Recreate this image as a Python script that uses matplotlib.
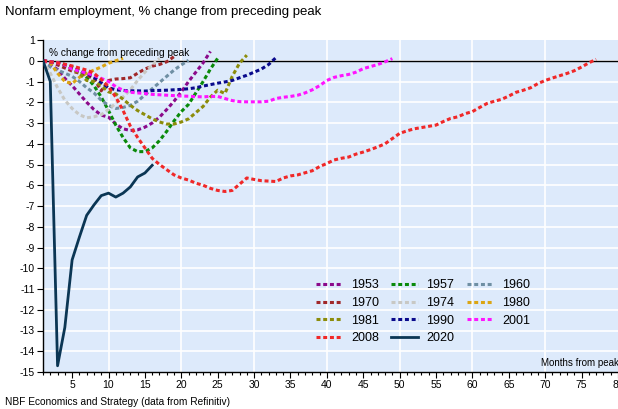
import matplotlib
matplotlib.use('Agg')
import matplotlib.pyplot as plt

plt.rcParams['font.family'] = ['Liberation Sans', 'DejaVu Sans']
plt.rcParams['axes.unicode_minus'] = False

# % change from preceding peak, month 1 = peak
y1953 = [0, -0.2, -0.42, -0.85, -1.2, -1.6, -2.0, -2.35, -2.62, -2.72, -3.05, -3.28, -3.36,
         -3.33, -3.2, -3.0, -2.72, -2.35, -1.95, -1.5, -1.0, -0.55, -0.1, 0.45]
y1957 = [0, -0.05, -0.1, -0.18, -0.3, -0.45, -0.8, -1.2, -1.75, -2.4, -3.1, -3.7, -4.2,
         -4.38, -4.38, -4.2, -3.85, -3.4, -2.9, -2.45, -2.1, -1.55, -1.0, -0.4, 0.12]
y1960 = [0, -0.3, -0.45, -0.6, -0.75, -1.0, -1.3, -1.55, -1.9, -2.15, -2.3, -2.25, -2.15,
         -1.95, -1.65, -1.35, -1.05, -0.75, -0.45, -0.2, 0.02]
y1970 = [0, -0.1, -0.2, -0.35, -0.5, -0.6, -0.7, -0.85, -1.45, -0.95, -0.88, -0.86, -0.82,
         -0.6, -0.4, -0.26, -0.18, -0.05, 0.2]
y1974 = [0, -0.6, -1.3, -1.9, -2.3, -2.6, -2.75, -2.7, -2.6, -2.35, -2.05, -1.75, -1.4,
         -0.95, -0.55, -0.2, 0.12]
y1980 = [0, -0.1, -0.6, -1.0, -1.1, -0.8, -0.6, -0.45, -0.3, -0.12, 0.0, 0.12]
y1981 = [0, -0.05, -0.1, -0.2, -0.4, -0.6, -0.95, -1.0, -1.2, -1.5, -1.6, -1.85, -2.15,
         -2.4, -2.6, -2.8, -2.95, -3.05, -3.05, -2.95, -2.8, -2.5, -2.2, -1.75, -1.42,
         -1.58, -0.75, -0.12, 0.27]
y1990 = [0, -0.05, -0.1, -0.2, -0.35, -0.5, -0.6, -0.8, -1.05, -1.3, -1.4, -1.43, -1.45,
         -1.45, -1.46, -1.44, -1.43, -1.42, -1.4, -1.38, -1.35, -1.3, -1.22, -1.15, -1.08,
         -1.02, -0.95, -0.82, -0.7, -0.55, -0.4, -0.18, 0.15]
y2001 = [0, -0.05, -0.1, -0.2, -0.4, -0.5, -0.6, -0.7, -0.85, -1.0, -1.25, -1.42, -1.52,
         -1.55, -1.58, -1.62, -1.64, -1.66, -1.68, -1.7, -1.71, -1.73, -1.74, -1.72, -1.72,
         -1.82, -1.92, -1.97, -1.98, -1.98, -1.98, -1.95, -1.82, -1.76, -1.72, -1.66, -1.55,
         -1.4, -1.2, -0.95, -0.8, -0.72, -0.66, -0.55, -0.38, -0.28, -0.18, -0.05, 0.1]
y2008 = [0, -0.05, -0.1, -0.17, -0.25, -0.35, -0.45, -0.6, -0.9,
         -1.25, -1.75, -2.4, -3.15, -3.7, -4.2, -4.7, -5.0, -5.25, -5.5, -5.65,
         -5.75, -5.9, -6.0, -6.15, -6.25, -6.3, -6.25, -5.95, -5.65, -5.72,
         -5.78, -5.8, -5.82, -5.65, -5.55, -5.5, -5.4, -5.3, -5.1, -4.95,
         -4.78, -4.7, -4.64, -4.5, -4.4, -4.28, -4.15, -4.0, -3.75, -3.5,
         -3.38, -3.28, -3.22, -3.16, -3.1, -2.93, -2.78, -2.7, -2.55, -2.45,
         -2.25, -2.06, -1.95, -1.86, -1.7, -1.52, -1.42, -1.3, -1.1, -0.95,
         -0.83, -0.72, -0.61, -0.48, -0.3, -0.1, 0.07]
y2020 = [0, -1.0, -14.7, -12.85, -9.6, -8.5, -7.45, -6.95, -6.5, -6.38, -6.57, -6.38,
         -6.08, -5.6, -5.41, -5.04]

series = [
    ('1953', y1953, '#8B0A8B'),
    ('1957', y1957, '#0A8A0A'),
    ('1960', y1960, '#6F8FA3'),
    ('1970', y1970, '#A0282A'),
    ('1974', y1974, '#C8C8C4'),
    ('1980', y1980, '#DBA514'),
    ('1981', y1981, '#8C8C0A'),
    ('1990', y1990, '#0A0A8C'),
    ('2001', y2001, '#FF14FF'),
    ('2008', y2008, '#F02828'),
]

fig = plt.figure(figsize=(6.18, 4.09), dpi=100)
ax = fig.add_axes([43 / 618, 37 / 409, 575 / 618, 332 / 409])
ax.set_facecolor('#DDEAFB')

for y in range(-14, 1):
    ax.axhline(y, color='white', lw=1.2, zorder=0)
for x in range(10, 80, 10):
    ax.axvline(x, color='white', lw=1.2, zorder=0)
ax.axhline(0, color='black', lw=1.0, zorder=1)

handles = {}
for name, vals, col in series:
    months = range(1, len(vals) + 1)
    h, = ax.plot(months, vals, color=col, lw=2.2, linestyle=(0, (1.3, 0.9)), zorder=2)
    handles[name] = h
h, = ax.plot(range(1, len(y2020) + 1), y2020, color='#0B3654', lw=2.0, zorder=3)
handles['2020'] = h

# row-wise order in a column-filled legend
order = ['1953', '1970', '1981', '2008', '1957', '1974', '1990', '2020', '1960', '1980', '2001']
ax.legend([handles[k] for k in order], order, ncol=3, frameon=False, fontsize=9,
          loc='lower left', bbox_to_anchor=(0.455, 0.05), handlelength=2.1,
          handletextpad=0.7, columnspacing=1.0, labelspacing=0.45)

ax.set_xlim(1, 80)
ax.set_ylim(-15, 1)
ax.set_xticks(range(5, 81, 5))
ax.set_xticks(range(1, 81), minor=True)
ax.set_yticks(range(-15, 2))
ax.tick_params(axis='both', labelsize=7.5, direction='out', length=4, width=0.8, pad=2)
ax.tick_params(axis='x', which='minor', length=2.5, width=0.8)
for s in ['top', 'right']:
    ax.spines[s].set_visible(False)
for s in ['left', 'bottom']:
    ax.spines[s].set_linewidth(1.0)

ax.text(0.01, 0.975, '% change from preceding peak', transform=ax.transAxes,
        fontsize=7.3, va='top', ha='left')
ax.text(1.002, 0.012, 'Months from peak', transform=ax.transAxes,
        fontsize=7, va='bottom', ha='right')

fig.text(5 / 618, 1 - 12 / 409, 'Nonfarm employment, % change from preceding peak',
         fontsize=9.5, va='center', ha='left')
fig.text(5 / 618, 1 - 402 / 409, 'NBF Economics and Strategy (data from Refinitiv)',
         fontsize=7.3, va='center', ha='left')

fig.savefig('out.png', dpi=100)
